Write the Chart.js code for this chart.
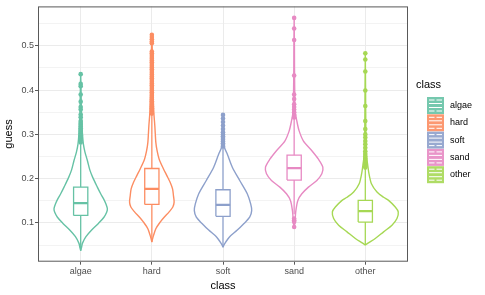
<!DOCTYPE html>
<html>
<head>
<meta charset="utf-8">
<script src="https://cdn.jsdelivr.net/npm/chart.js@4"></script>
<style>
  body { margin: 0; background: #fff; }
  #wrap { width: 485px; height: 295px; }
</style>
</head>
<body>
<div id="wrap"><canvas id="violinChart"></canvas></div>
<script>
// categories and colours (ggplot Set2)
var categories = ['algae', 'hard', 'soft', 'sand', 'other'];
var colors = ['#66C2A5', '#FC8D62', '#8DA0CB', '#E78AC3', '#A6D854'];

// violin outlines: [guess value, half width in category units]
var algaeViolin = [[0.038,0],[0.045,0.012],[0.054,0.024],[0.069,0.074],[0.084,0.154],[0.099,0.249],[0.113,0.327],[0.124,0.365],[0.132,0.375],[0.143,0.355],[0.155,0.32],[0.166,0.281],[0.181,0.234],[0.203,0.169],[0.22,0.128],[0.241,0.094],[0.26,0.06],[0.278,0.038],[0.3,0.025],[0.33,0.014],[0.37,0.008],[0.41,0.004],[0.436,0]];
var hardViolin = [[0.057,0],[0.064,0.01],[0.072,0.024],[0.087,0.056],[0.102,0.117],[0.113,0.173],[0.125,0.243],[0.136,0.295],[0.147,0.313],[0.16,0.305],[0.177,0.291],[0.192,0.257],[0.207,0.211],[0.222,0.164],[0.244,0.103],[0.262,0.075],[0.282,0.056],[0.319,0.042],[0.349,0.028],[0.4,0.016],[0.45,0.01],[0.49,0.006],[0.525,0]];
var softViolin = [[0.045,0],[0.05,0.012],[0.057,0.038],[0.069,0.094],[0.084,0.201],[0.099,0.295],[0.113,0.375],[0.128,0.403],[0.143,0.389],[0.166,0.341],[0.196,0.235],[0.226,0.131],[0.256,0.06],[0.27,0.022],[0.29,0.015],[0.32,0.007],[0.344,0]];
var sandViolin = [[0.091,0],[0.099,0.01],[0.113,0.016],[0.128,0.024],[0.151,0.052],[0.166,0.108],[0.181,0.201],[0.196,0.319],[0.211,0.389],[0.226,0.403],[0.244,0.341],[0.263,0.249],[0.285,0.131],[0.308,0.07],[0.33,0.038],[0.353,0.014],[0.4,0.008],[0.45,0.005],[0.5,0.004],[0.563,0]];
var otherViolin = [[0.05,0],[0.054,0.032],[0.065,0.14],[0.08,0.257],[0.095,0.375],[0.11,0.445],[0.125,0.463],[0.136,0.421],[0.151,0.327],[0.158,0.257],[0.17,0.164],[0.188,0.088],[0.211,0.052],[0.233,0.032],[0.256,0.014],[0.3,0.008],[0.4,0.004],[0.483,0]];

// boxplot stats
var boxLower  = [0.037, 0.057, 0.046, 0.120, 0.050];
var boxQ1     = [0.117, 0.142, 0.115, 0.197, 0.102];
var boxMedian = [0.145, 0.177, 0.141, 0.224, 0.127];
var boxQ3     = [0.181, 0.223, 0.175, 0.253, 0.151];
var boxUpper  = [0.278, 0.345, 0.267, 0.335, 0.222];

// outliers
var algaeOut = [0.436,0.414,0.409,0.39,0.374,0.362,0.356,0.345,0.339,0.33,0.326,0.322,0.318,0.314,0.31,0.306,0.302,0.298,0.294,0.29,0.286,0.282];
var hardOut = [0.525,0.52,0.515,0.51,0.506,0.487,0.483,0.479,0.475,0.471,0.467,0.463,0.459,0.455,0.451,0.447,0.443,0.439,0.435,0.431,0.427,0.423,0.419,0.415,0.411,0.407,0.403,0.399,0.395,0.391,0.387,0.383,0.379,0.375,0.371,0.367,0.363,0.359,0.355,0.351,0.347];
var softOut = [0.344,0.336,0.328,0.32,0.312,0.305,0.3,0.296,0.292,0.288,0.284,0.28,0.276,0.272];
var sandOut = [0.563,0.539,0.513,0.433,0.39,0.38,0.368,0.362,0.356,0.35,0.344,0.338,0.11,0.106,0.103,0.091];
var otherOut = [0.483,0.469,0.442,0.399,0.364,0.33,0.312,0.3,0.293,0.285,0.278,0.27,0.262,0.256,0.25,0.245,0.24,0.236,0.232,0.228,0.225];

var violins = [algaeViolin, hardViolin, softViolin, sandViolin, otherViolin];
var outliers = [algaeOut, hardOut, softOut, sandOut, otherOut];
var boxHalf = 0.1;

var datasets = [];
categories.forEach(function (cat, i) {
    var c = i + 1;
    var v = violins[i];
    var outline = [];
    v.forEach(function (p) { outline.push({ x: c + p[1], y: p[0] }); });
    for (var k = v.length - 1; k >= 0; k--) outline.push({ x: c - v[k][1], y: v[k][0] });

    // violin
    datasets.push({
        data: outline, showLine: true, fill: 'shape', backgroundColor: '#fff',
        borderColor: colors[i], borderWidth: 1.4, pointRadius: 0, tension: 0.3, order: 4
    });
    // whisker
    datasets.push({
        data: [{ x: c, y: boxLower[i] }, { x: c, y: boxUpper[i] }], showLine: true,
        borderColor: colors[i], borderWidth: 1.3, pointRadius: 0, order: 3
    });
    // box
    datasets.push({
        data: [{ x: c - boxHalf, y: boxQ1[i] }, { x: c + boxHalf, y: boxQ1[i] }, { x: c + boxHalf, y: boxQ3[i] }, { x: c - boxHalf, y: boxQ3[i] }, { x: c - boxHalf, y: boxQ1[i] }],
        showLine: true, fill: 'shape', backgroundColor: '#fff',
        borderColor: colors[i], borderWidth: 1.3, pointRadius: 0, order: 2
    });
    // median
    datasets.push({
        data: [{ x: c - boxHalf, y: boxMedian[i] }, { x: c + boxHalf, y: boxMedian[i] }],
        showLine: true, borderColor: colors[i], borderWidth: 2.2, pointRadius: 0, order: 1
    });
    // outliers
    datasets.push({
        data: outliers[i].map(function (y) { return { x: c, y: y }; }),
        showLine: false, backgroundColor: colors[i], borderWidth: 0, pointRadius: 2.3, order: 0
    });
});

function isMajor(v) { return Math.abs(Math.round(v * 10) - v * 10) < 1e-6; }

// panel border + legend
var panelPlugin = {
    id: 'panel',
    afterDraw: function (chart) {
        var ctx = chart.ctx, a = chart.chartArea;
        ctx.save();
        ctx.strokeStyle = '#595959';
        ctx.lineWidth = 1;
        ctx.strokeRect(a.left + 0.5, a.top + 0.5, a.right - a.left - 1, a.bottom - a.top - 1);

        ctx.fillStyle = '#000';
        ctx.textBaseline = 'middle';
        ctx.font = '11px "Liberation Sans", Arial, sans-serif';
        ctx.fillText('class', 416, 85);
        ctx.font = '9px "Liberation Sans", Arial, sans-serif';
        categories.forEach(function (cat, i) {
            var x0 = 427, y0 = 97 + i * 17.3;
            ctx.fillStyle = colors[i];
            ctx.globalAlpha = 0.9;
            ctx.fillRect(x0, y0, 17, 17);
            ctx.globalAlpha = 1;
            ctx.fillStyle = '#fff';
            ctx.fillRect(x0 + 2, y0 + 2.5, 5.5, 1);
            ctx.fillRect(x0 + 9.5, y0 + 2.5, 5.5, 1);
            ctx.fillRect(x0 + 2, y0 + 6, 13, 1);
            ctx.fillRect(x0 + 2, y0 + 10, 13, 1);
            ctx.fillRect(x0 + 2, y0 + 13.5, 5.5, 1);
            ctx.fillRect(x0 + 9.5, y0 + 13.5, 5.5, 1);
            ctx.fillStyle = '#000';
            ctx.fillText(cat, 450, y0 + 8.5);
        });
        ctx.restore();
    }
};

Chart.defaults.font.family = '"Liberation Sans", Arial, sans-serif';

var ctx = document.getElementById('violinChart').getContext('2d');
window.violinChart = new Chart(ctx, {
    type: 'scatter',
    data: { datasets: datasets },
    options: {
        responsive: true,
        maintainAspectRatio: false,
        animation: false,
        layout: { padding: { top: 5, right: 77, left: 0, bottom: 0 } },
        plugins: { legend: { display: false }, tooltip: { enabled: false } },
        scales: {
            x: {
                type: 'linear', min: 0.4, max: 5.6,
                ticks: {
                    stepSize: 1, includeBounds: false, autoSkip: false, maxRotation: 0,
                    color: '#4D4D4D', font: { size: 9 }, padding: 1,
                    callback: function (v) { return categories[v - 1] || ''; }
                },
                grid: { color: '#EBEBEB', lineWidth: 1, tickLength: 3, tickColor: '#595959' },
                border: { display: false },
                title: { display: true, text: 'class', color: '#000', font: { size: 11 }, padding: { top: 2, bottom: 2 } },
                afterFit: function (s) { s.height = 33.3; }
            },
            y: {
                type: 'linear', min: 0.0126, max: 0.589,
                ticks: {
                    stepSize: 0.05, includeBounds: false, autoSkip: false, maxTicksLimit: 30,
                    color: '#4D4D4D', font: { size: 9 }, padding: 1,
                    callback: function (v) { return isMajor(v) ? v.toFixed(1) : ''; }
                },
                grid: {
                    color: '#EBEBEB', tickLength: 3,
                    lineWidth: function (c) { return c.tick && isMajor(c.tick.value) ? 1 : 0.6; },
                    tickColor: function (c) { return c.tick && isMajor(c.tick.value) ? '#595959' : 'rgba(0,0,0,0)'; }
                },
                border: { display: false },
                title: { display: true, text: 'guess', color: '#000', font: { size: 11 }, padding: { top: 2, bottom: 2 } },
                afterFit: function (s) { s.width = 38; }
            }
        }
    },
    plugins: [panelPlugin]
});
</script>
</body>
</html>
